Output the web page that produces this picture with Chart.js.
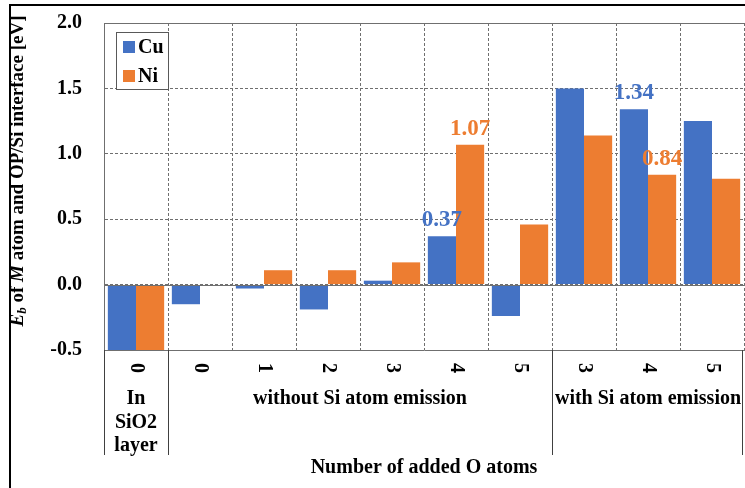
<!DOCTYPE html>
<html>
<head>
<meta charset="utf-8">
<script src="https://cdn.jsdelivr.net/npm/chart.js@4"></script>
<style>
	html, body { margin: 0; padding: 0; background: #fff; }
	#wrap { width: 745px; height: 488px; position: relative; }
</style>
</head>
<body>
<div id="wrap"><canvas id="myChart" width="745" height="488"></canvas></div>
<script>
const categories = ['0', '0', '1', '2', '3', '4', '5', '3', '4', '5'];
const cuValues = [-0.5, -0.15, -0.03, -0.19, 0.03, 0.37, -0.24, 1.50, 1.34, 1.25];
const niValues = [-0.5, 0, 0.11, 0.11, 0.17, 1.07, 0.46, 1.14, 0.84, 0.81];
const cuShown = [5, 8];
const niShown = [5, 8];
const groups = [
	{ from: 0, to: 0, lines: ['In', 'SiO2', 'layer'] },
	{ from: 1, to: 6, lines: ['without Si atom emission'] },
	{ from: 7, to: 9, lines: ['with Si atom emission'] }
];
const yTicks = [-0.5, 0.0, 0.5, 1.0, 1.5, 2.0];
const xTitle = 'Number of added O atoms';

const SERIF = '"Liberation Serif", "DejaVu Serif", serif';
const BLUE = '#4472C4';
const ORANGE = '#ED7D31';
const GRID = '#6f6f6f';

const ctx = document.getElementById('myChart');

const drawExtras = {
	id: 'drawExtras',
	afterDatasetsDraw(chart) {
		const c = chart.ctx;
		const area = chart.chartArea;
		const x = chart.scales.x;
		const y = chart.scales.y;

		// zero line and top border
		c.save();
		c.strokeStyle = GRID;
		c.lineWidth = 1;
		c.beginPath();
		const y0 = Math.round(y.getPixelForValue(0)) + 0.5;
		c.moveTo(area.left, y0);
		c.lineTo(area.right, y0);
		c.moveTo(area.left, area.top + 0.5);
		c.lineTo(area.right, area.top + 0.5);
		c.stroke();
		c.restore();

		// value labels
		c.save();
		c.font = 'bold 23px ' + SERIF;
		c.textAlign = 'center';
		c.textBaseline = 'alphabetic';
		[[0, cuShown], [1, niShown]].forEach(([ds, list]) => {
			const meta = chart.getDatasetMeta(ds);
			c.fillStyle = chart.data.datasets[ds].backgroundColor;
			list.forEach(i => {
				const bar = meta.data[i];
				const v = chart.data.datasets[ds].data[i];
				c.fillText(v.toFixed(2), bar.x, bar.y - 10);
			});
		});
		c.restore();

		// legend
		c.save();
		c.fillStyle = '#fff';
		c.fillRect(116, 32, 52, 57);
		c.strokeStyle = '#595959';
		c.lineWidth = 1;
		c.strokeRect(116.5, 32.5, 52, 57);
		c.font = 'bold 20px ' + SERIF;
		c.textBaseline = 'middle';
		c.textAlign = 'left';
		chart.data.datasets.forEach((d, i) => {
			const ly = 47 + i * 29;
			c.fillStyle = d.backgroundColor;
			c.fillRect(123, ly - 6, 12, 12);
			c.fillStyle = '#000';
			c.fillText(d.label, 138, ly + 1);
		});
		c.restore();

		// x axis labels
		c.save();
		c.fillStyle = '#000';
		c.font = 'bold 20px ' + SERIF;
		c.textAlign = 'center';
		c.textBaseline = 'middle';
		categories.forEach((lab, i) => {
			c.save();
			c.translate(x.getPixelForValue(i), 368);
			c.rotate(Math.PI / 2);
			c.fillText(lab, 0, 0);
			c.restore();
		});
		const half = (x.getPixelForValue(1) - x.getPixelForValue(0)) / 2;
		const seps = [area.left];
		groups.forEach(g => {
			const cx = (x.getPixelForValue(g.from) + x.getPixelForValue(g.to)) / 2;
			g.lines.forEach((t, k) => c.fillText(t, cx, 399 + k * 23.5));
			seps.push(x.getPixelForValue(g.to) + half);
		});
		c.strokeStyle = '#404040';
		c.lineWidth = 1;
		c.beginPath();
		seps.forEach(sx => {
			const px = Math.min(Math.round(sx), 742) + 0.5;
			c.moveTo(px, area.bottom);
			c.lineTo(px, 455);
		});
		c.stroke();
		c.fillText(xTitle, 424, 468);
		c.restore();

		// y axis title
		c.save();
		c.translate(18, 171);
		c.rotate(-Math.PI / 2);
		c.fillStyle = '#000';
		c.textBaseline = 'middle';
		c.textAlign = 'left';
		const parts = [
			{ t: 'E', f: 'italic bold 19px ' + SERIF, dy: 0 },
			{ t: 'b', f: 'italic bold 13px ' + SERIF, dy: 5 },
			{ t: ' of ', f: 'bold 19px ' + SERIF, dy: 0 },
			{ t: 'M', f: 'italic bold 19px ' + SERIF, dy: 0 },
			{ t: ' atom and OP/Si interface [eV]', f: 'bold 19px ' + SERIF, dy: 0 }
		];
		let total = 0;
		parts.forEach(p => { c.font = p.f; p.w = c.measureText(p.t).width; total += p.w; });
		let px = -total / 2;
		parts.forEach(p => {
			c.font = p.f;
			c.fillText(p.t, px, p.dy);
			px += p.w;
		});
		c.restore();

		// outer frame
		c.save();
		c.strokeStyle = '#000';
		c.lineWidth = 2;
		c.beginPath();
		c.moveTo(10, 488);
		c.lineTo(10, 5);
		c.lineTo(745, 5);
		c.stroke();
		c.restore();
	}
};

const myChart = new Chart(ctx, {
	type: 'bar',
	data: {
		labels: categories.map((c, i) => c + '_' + i),
		datasets: [
			{ label: 'Cu', data: cuValues, backgroundColor: BLUE },
			{ label: 'Ni', data: niValues, backgroundColor: ORANGE }
		]
	},
	options: {
		responsive: false,
		animation: false,
		layout: { padding: { top: 23, right: 1, left: 0, bottom: 0 } },
		categoryPercentage: 0.88,
		barPercentage: 1.0,
		plugins: {
			legend: { display: false },
			tooltip: { enabled: false }
		},
		scales: {
			x: {
				afterFit(scale) { scale.height = 138; scale.paddingLeft = 0; scale.paddingRight = 0; },
				ticks: { display: false },
				grid: { display: true, offset: true, color: GRID, drawTicks: false },
				border: { display: true, color: GRID, dash: [3, 2] }
			},
			y: {
				min: -0.5,
				max: 2.0,
				afterFit(scale) { scale.width = 104; scale.paddingTop = 0; scale.paddingBottom = 0; },
				afterBuildTicks(scale) { scale.ticks = yTicks.map(v => ({ value: v })); },
				ticks: {
					color: '#000',
					padding: 22,
					font: { family: SERIF, size: 20, weight: 'bold' },
					callback: v => v.toFixed(1)
				},
				grid: { color: GRID, drawTicks: false },
				border: { display: true, color: GRID, dash: [3, 2] }
			}
		}
	},
	plugins: [drawExtras]
});
</script>
</body>
</html>
